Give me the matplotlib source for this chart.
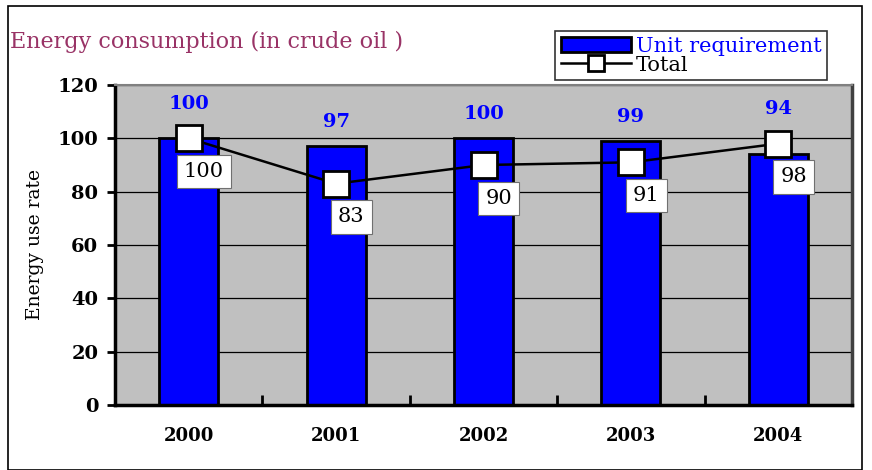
import matplotlib
matplotlib.use("Agg")
import matplotlib.pyplot as plt
from matplotlib.patches import Rectangle
import numpy as np

years = ["2000", "2001", "2002", "2003", "2004"]
unit_requirement = [100, 97, 100, 99, 94]
total = [100, 83, 90, 91, 98]
yticks = [0, 20, 40, 60, 80, 100, 120]

serif = "DejaVu Serif"
fig = plt.figure(figsize=(8.72, 4.70), dpi=100)
fig.patches.append(Rectangle((8/872, 0.0), (862-8)/872, 1-6/470, transform=fig.transFigure,
                             fill=False, edgecolor="black", linewidth=1.2))

ax = fig.add_axes([115/872, 1-405/470, (852-115)/872, (405-85)/470])
ax.set_facecolor("#c0c0c0")
x = np.arange(len(years))
bars = ax.bar(x, unit_requirement, width=0.4, color="#0000ff", edgecolor="black", linewidth=2,
              zorder=2, label="Unit requirement")
line, = ax.plot(x, total, color="black", linewidth=1.8, marker="s", markersize=19,
                markerfacecolor="white", markeredgecolor="black", markeredgewidth=2, zorder=3,
                label="Total")

ax.set_xlim(-0.5, len(years) - 0.5)
ax.set_ylim(0, 120)
ax.set_yticks(yticks)
ax.yaxis.grid(True, color="black", linewidth=0.9, zorder=0)
ax.set_axisbelow(True)
ax.set_yticklabels([str(v) for v in yticks], fontsize=14, family=serif, fontweight="bold")
ax.tick_params(axis="y", direction="out", length=6, width=2, pad=6)
ax.set_xticks(x)
ax.set_xticklabels(years, fontsize=13, family=serif, fontweight="bold")
ax.tick_params(axis="x", which="major", length=0, pad=16)
ax.set_xticks(np.arange(0.5, len(years) - 0.5, 1), minor=True)
ax.tick_params(axis="x", which="minor", direction="in", length=7, width=2)

for side in ["left", "bottom"]:
    ax.spines[side].set_linewidth(2.5)
    ax.spines[side].set_color("black")
ax.spines["right"].set_linewidth(2.5)
ax.spines["right"].set_color("#404040")
ax.spines["top"].set_linewidth(1.5)
ax.spines["top"].set_color("#808080")

ax.set_ylabel("Energy use rate", family=serif, fontsize=13.5, labelpad=10)

for xi, b, t in zip(x, unit_requirement, total):
    ax.text(xi, max(b + 9, t + 13), str(b), color="#0000ff", ha="center", va="center",
            fontsize=14, family=serif, fontweight="bold")
    ax.annotate(str(t), (xi, t), xytext=(11, -24), textcoords="offset points",
                ha="center", va="center", fontsize=15, family=serif, zorder=5,
                bbox=dict(boxstyle="square,pad=0.35", facecolor="white", edgecolor="#707070",
                          linewidth=0.8))

fig.text(10/872, 1-42/470, "Energy consumption (in crude oil )", color="#993366",
         fontsize=16, family=serif, va="center", ha="left")

leg = fig.legend(handles=[bars, line], loc="upper left", bbox_to_anchor=(545/872, 1-21/470),
                 frameon=True, fancybox=False, edgecolor="black", handlelength=3.4,
                 handletextpad=0.2, borderpad=0.25, labelspacing=0.0,
                 prop={"family": serif, "size": 15})
leg.get_frame().set_linewidth(1.2)
leg.get_texts()[0].set_color("#0000ff")
for h in leg.legend_handles:
    if hasattr(h, "set_markersize"):
        h.set_markersize(12)

fig.savefig("out.png", dpi=100)
